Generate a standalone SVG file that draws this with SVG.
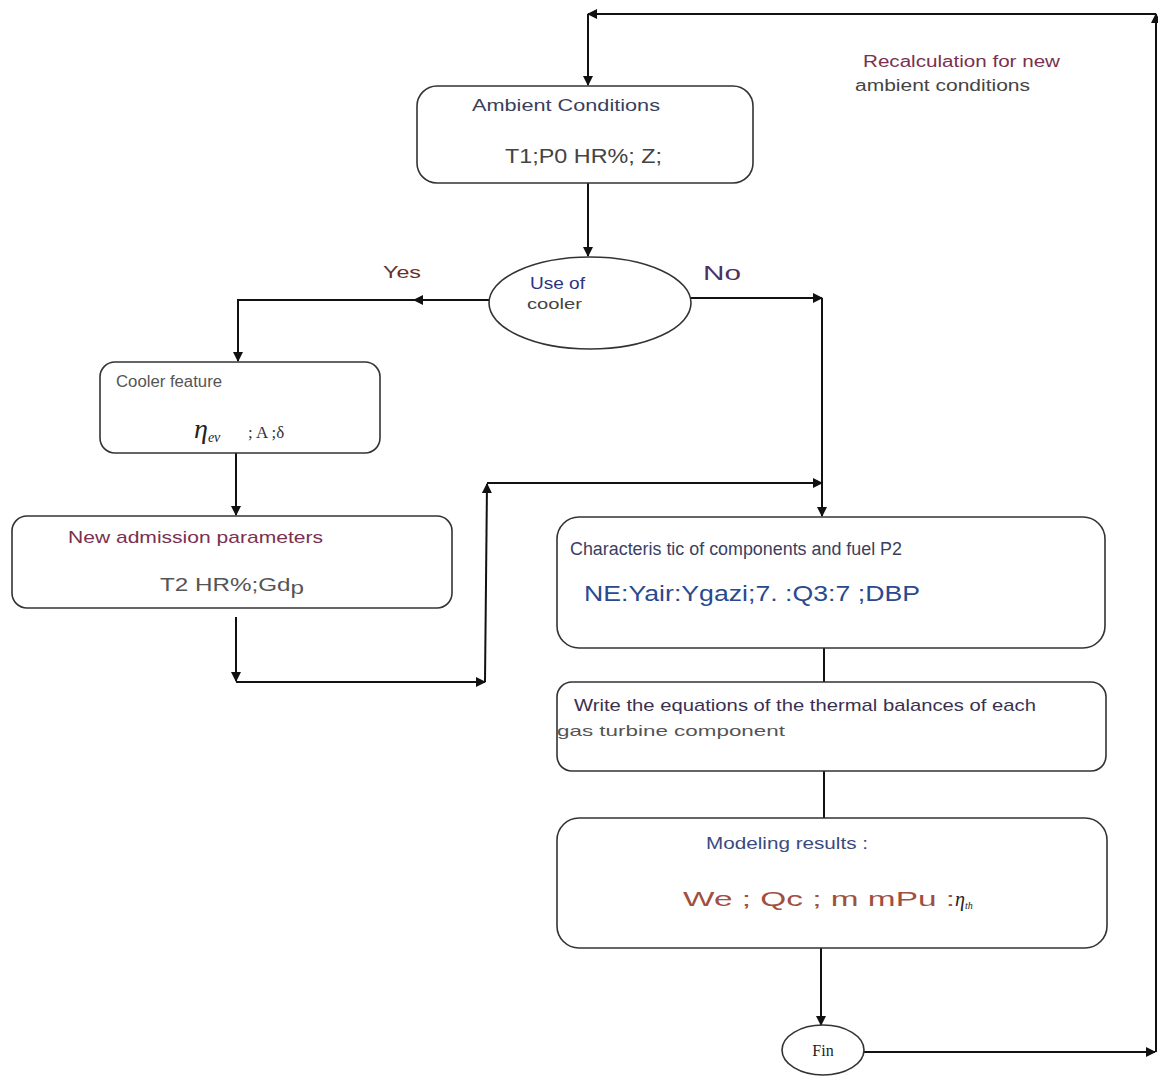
<svg xmlns="http://www.w3.org/2000/svg" width="1158" height="1077" viewBox="0 0 1158 1077">
<defs>
<marker id="ah" viewBox="0 0 10 10" refX="9" refY="5" markerWidth="10" markerHeight="10" markerUnits="userSpaceOnUse" orient="auto">
<path d="M0,0 L10,5 L0,10 z" fill="#111"/>
</marker>
<style>
.box{fill:#fff;stroke:#333;stroke-width:1.6}
.ln{fill:none;stroke:#111;stroke-width:2}
.t{font-family:"Liberation Sans",Arial,sans-serif}
.s{font-family:"Liberation Serif","Times New Roman",serif}
</style>
</defs>
<rect width="1158" height="1077" fill="#fff"/>
<g id="connectors">
<path class="ln" d="M1156,1052 L1156,14" marker-end="url(#ah)"/>
<path class="ln" d="M1156,14 L588,14" marker-end="url(#ah)"/>
<path class="ln" d="M588,14 L588,85" marker-end="url(#ah)"/>
<path class="ln" d="M588,183 L588,256" marker-end="url(#ah)"/>
<path class="ln" d="M489,300 L414,300" marker-end="url(#ah)"/>
<path class="ln" d="M414,300 L238,300 L238,361" marker-end="url(#ah)"/>
<path class="ln" d="M691,298 L822,298" marker-end="url(#ah)"/>
<path class="ln" d="M822,298 L822,516" marker-end="url(#ah)"/>
<path class="ln" d="M487,483 L822,483" marker-end="url(#ah)"/>
<path class="ln" d="M236,453 L236,515" marker-end="url(#ah)"/>
<path class="ln" d="M236,617 L236,681" marker-end="url(#ah)"/>
<path class="ln" d="M236,682 L485,682" marker-end="url(#ah)"/>
<path class="ln" d="M485,682 L487,484" marker-end="url(#ah)"/>
<path class="ln" d="M824,648 L824,682"/>
<path class="ln" d="M824,771 L824,818"/>
<path class="ln" d="M821,948 L821,1025" marker-end="url(#ah)"/>
<path class="ln" d="M864,1052 L1155,1052" marker-end="url(#ah)"/>
</g>
<g id="label-recalc">
<text class="t" x="863" y="67" font-size="16" fill="#7a3050" textLength="197" lengthAdjust="spacingAndGlyphs">Recalculation for new</text>
<text class="t" x="855" y="91" font-size="16" fill="#444" textLength="175" lengthAdjust="spacingAndGlyphs">ambient conditions</text>
</g>
<g id="ambient">
<rect class="box" x="417" y="86" width="336" height="97" rx="20"/>
<text class="t" x="472" y="111" font-size="17" fill="#3a3f5a" textLength="188" lengthAdjust="spacingAndGlyphs">Ambient Conditions</text>
<text class="t" x="505" y="163" font-size="20" fill="#444" textLength="157" lengthAdjust="spacingAndGlyphs">T1;P0 HR%; Z;</text>
</g>
<g id="decision">
<ellipse cx="590" cy="303" rx="101" ry="46" fill="#fff" stroke="#333" stroke-width="1.6"/>
<text class="t" x="530" y="289" font-size="17" fill="#2a3580" textLength="55" lengthAdjust="spacingAndGlyphs">Use of</text>
<text class="t" x="527" y="309" font-size="15" fill="#444" textLength="55" lengthAdjust="spacingAndGlyphs">cooler</text>
</g>
<g id="label-yes"><text class="t" x="383" y="278" font-size="17" fill="#6b2f2a" textLength="38" lengthAdjust="spacingAndGlyphs">Yes</text></g>
<g id="label-no"><text class="t" x="703" y="280" font-size="20" fill="#503060" textLength="38" lengthAdjust="spacingAndGlyphs">No</text></g>
<g id="cooler">
<rect class="box" x="100" y="362" width="280" height="91" rx="15"/>
<text class="t" x="116" y="387" font-size="16" fill="#555" textLength="106" lengthAdjust="spacingAndGlyphs">Cooler feature</text>
<text class="s" x="194" y="438" font-size="28" font-style="italic" fill="#222">η<tspan font-size="14" dy="4">ev</tspan></text>
<text class="s" x="248" y="438" font-size="17" fill="#333">; A ;δ</text>
</g>
<g id="admission">
<rect class="box" x="12" y="516" width="440" height="92" rx="15"/>
<text class="t" x="68" y="543" font-size="17" fill="#7a3050" textLength="255" lengthAdjust="spacingAndGlyphs">New admission parameters</text>
<text class="t" x="160" y="591" font-size="18" fill="#555" textLength="144" lengthAdjust="spacingAndGlyphs">T2 HR%;Gd<tspan dy="3">p</tspan></text>
</g>
<g id="characteristic">
<rect class="box" x="557" y="517" width="548" height="131" rx="22"/>
<text class="t" x="570" y="555" font-size="18" fill="#3a4060" textLength="332" lengthAdjust="spacingAndGlyphs">Characteris tic of components  and fuel P2</text>
<text class="t" x="584" y="601" font-size="22" fill="#2a4a90" textLength="336" lengthAdjust="spacingAndGlyphs">NE:Yair:Ygazi;7. :Q3:7 ;DBP</text>
</g>
<g id="equations">
<rect class="box" x="557" y="682" width="549" height="89" rx="15"/>
<text class="t" x="574" y="711" font-size="17" fill="#3a3050" textLength="462" lengthAdjust="spacingAndGlyphs">Write the equations of the thermal balances of each</text>
<text class="t" x="557" y="736" font-size="15" fill="#555" textLength="228" lengthAdjust="spacingAndGlyphs">gas turbine component</text>
</g>
<g id="results">
<rect class="box" x="557" y="818" width="550" height="130" rx="22"/>
<text class="t" x="706" y="849" font-size="17" fill="#3a4a80" textLength="162" lengthAdjust="spacingAndGlyphs">Modeling results :</text>
<text class="t" x="683" y="906" font-size="21" fill="#a05040" textLength="272" lengthAdjust="spacingAndGlyphs">We ; Qc ; m mPu :</text>
<text class="s" x="955" y="906" font-size="20" font-style="italic" fill="#222">η<tspan font-size="10" dy="3">th</tspan></text>
</g>
<g id="fin">
<ellipse cx="823" cy="1050" rx="41" ry="25" fill="#fff" stroke="#333" stroke-width="1.6"/>
<text class="s" x="823" y="1056" font-size="16" fill="#222" text-anchor="middle">Fin</text>
</g>
</svg>
